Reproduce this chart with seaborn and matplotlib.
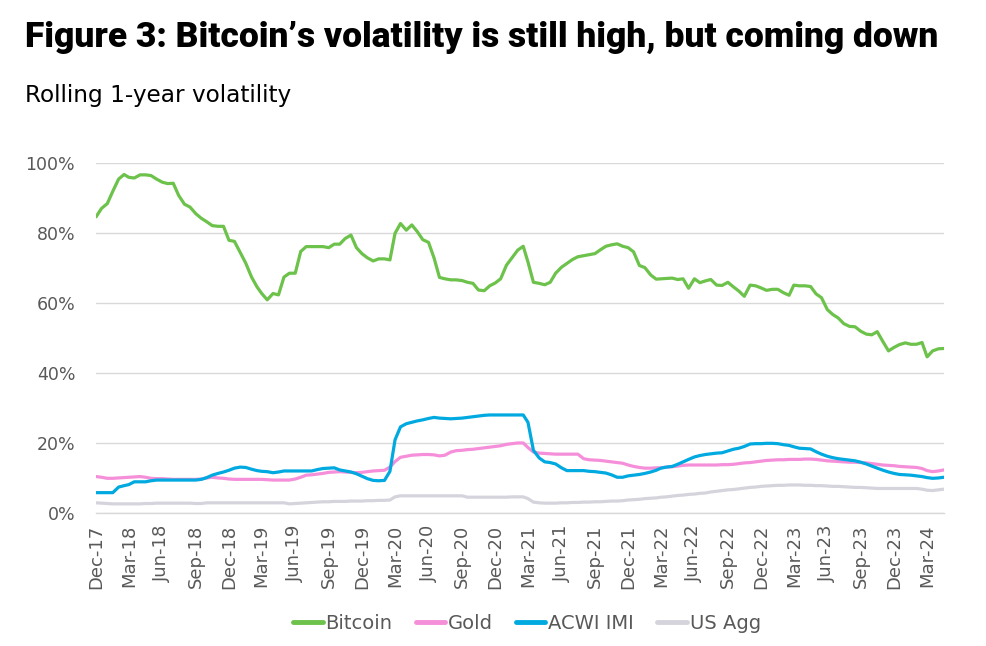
import numpy as np
import pandas as pd
import matplotlib
matplotlib.use("Agg")
import matplotlib.pyplot as plt
from matplotlib.ticker import FuncFormatter
import seaborn as sns

# ── data: rolling 1-year volatility (%), sampled on the 1st and 16th of each month ──
starts = pd.date_range("2017-12-01", "2024-04-01", freq="MS")
dates = sorted(list(starts) + list(starts + pd.Timedelta(days=15)))

bitcoin = [84.7, 87.1, 88.5, 92.0, 95.5, 96.8, 96.0, 95.8, 96.7, 96.7,
           96.5, 95.5, 94.6, 94.2, 94.3, 90.8, 88.3, 87.5, 85.6, 84.3,
           83.3, 82.2, 82.0, 82.0, 78.0, 77.7, 74.5, 71.5, 67.5, 64.7,
           62.8, 61.0, 62.8, 62.4, 67.5, 68.6, 68.6, 74.8, 76.2, 76.2,
           76.2, 76.2, 75.9, 76.9, 76.9, 78.5, 79.5, 75.9, 74.2, 73.0,
           72.1, 72.7, 72.7, 72.4, 80.0, 82.8, 80.9, 82.4, 80.5, 78.2,
           77.4, 73.0, 67.4, 67.0, 66.7, 66.7, 66.5, 66.0, 65.7, 63.8,
           63.6, 65.0, 65.8, 67.0, 70.9, 73.0, 75.2, 76.3, 71.8, 66.0,
           65.7, 65.3, 66.0, 68.6, 70.3, 71.4, 72.5, 73.3, 73.6, 73.9,
           74.2, 75.3, 76.3, 76.7, 77.0, 76.3, 75.9, 74.7, 70.8, 70.2,
           68.1, 66.9, 67.0, 67.1, 67.2, 66.8, 67.0, 64.3, 67.0, 65.9,
           66.4, 66.8, 65.2, 65.1, 66.0, 64.7, 63.5, 62.0, 65.2, 65.0,
           64.4, 63.7, 64.0, 64.0, 63.0, 62.3, 65.2, 65.0, 65.0, 64.8,
           62.7, 61.6, 58.2, 56.8, 55.8, 54.2, 53.4, 53.3, 52.0, 51.2,
           51.0, 51.9, 49.0, 46.4, 47.4, 48.2, 48.7, 48.3, 48.3, 48.8,
           44.7, 46.4, 47.0, 47.1]

gold = [10.5, 10.3, 10.0, 10.0, 10.1, 10.2, 10.3, 10.4, 10.5, 10.3,
        10.0, 9.9, 9.9, 9.8, 9.7, 9.7, 9.7, 9.7, 9.7, 9.8,
        10.1, 10.3, 10.1, 10.0, 9.8, 9.7, 9.7, 9.7, 9.7, 9.7,
        9.7, 9.6, 9.5, 9.5, 9.5, 9.5, 9.8, 10.3, 10.9, 11.0,
        11.2, 11.4, 11.7, 11.8, 11.9, 11.8, 11.7, 11.6, 11.7, 11.9,
        12.1, 12.2, 12.3, 13.2, 14.8, 16.0, 16.3, 16.6, 16.7, 16.8,
        16.8, 16.7, 16.4, 16.6, 17.5, 17.9, 18.0, 18.2, 18.3, 18.5,
        18.7, 18.9, 19.1, 19.3, 19.7, 19.9, 20.1, 20.1, 18.8, 17.5,
        17.2, 17.1, 17.0, 16.9, 16.9, 16.9, 16.9, 16.9, 15.6, 15.3,
        15.2, 15.1, 14.9, 14.7, 14.5, 14.3, 13.8, 13.4, 13.1, 12.9,
        12.9, 13.0, 13.0, 13.2, 13.3, 13.5, 13.7, 13.8, 13.8, 13.8,
        13.8, 13.8, 13.8, 13.9, 13.9, 14.0, 14.2, 14.4, 14.5, 14.7,
        14.9, 15.1, 15.2, 15.3, 15.3, 15.4, 15.4, 15.4, 15.5, 15.5,
        15.4, 15.2, 15.0, 14.9, 14.8, 14.7, 14.6, 14.6, 14.5, 14.4,
        14.2, 14.0, 13.8, 13.7, 13.6, 13.4, 13.3, 13.2, 13.1, 12.8,
        12.2, 11.9, 12.1, 12.4]

acwi_imi = [5.9, 5.9, 5.9, 5.9, 7.5, 7.9, 8.2, 9.0, 9.0, 9.0,
            9.3, 9.5, 9.5, 9.5, 9.5, 9.5, 9.5, 9.5, 9.5, 9.7,
            10.2, 10.9, 11.4, 11.8, 12.3, 12.9, 13.2, 13.1, 12.6, 12.2,
            12.0, 11.9, 11.6, 11.8, 12.1, 12.1, 12.1, 12.1, 12.1, 12.1,
            12.5, 12.8, 12.9, 13.0, 12.4, 12.1, 11.8, 11.3, 10.6, 9.9,
            9.4, 9.3, 9.4, 12.0, 21.0, 24.7, 25.6, 26.0, 26.4, 26.7,
            27.1, 27.4, 27.2, 27.1, 27.0, 27.1, 27.2, 27.4, 27.6, 27.8,
            28.0, 28.1, 28.1, 28.1, 28.1, 28.1, 28.1, 28.1, 26.0, 18.0,
            15.8, 14.7, 14.5, 14.1, 13.0, 12.2, 12.2, 12.2, 12.2, 12.0,
            11.9, 11.7, 11.5, 11.0, 10.3, 10.3, 10.7, 10.9, 11.1, 11.4,
            11.8, 12.3, 12.9, 13.2, 13.4, 14.0, 14.7, 15.4, 16.1, 16.5,
            16.8, 17.0, 17.2, 17.3, 17.8, 18.3, 18.6, 19.1, 19.8, 19.9,
            19.9, 20.0, 20.0, 19.9, 19.6, 19.4, 19.0, 18.6, 18.5, 18.4,
            17.6, 16.9, 16.3, 15.9, 15.6, 15.4, 15.2, 15.0, 14.6, 14.1,
            13.5, 12.9, 12.3, 11.8, 11.4, 11.1, 11.0, 10.9, 10.7, 10.5,
            10.2, 10.0, 10.1, 10.3]

us_agg = [3.0, 2.9, 2.8, 2.7, 2.7, 2.7, 2.7, 2.7, 2.7, 2.8,
          2.8, 2.9, 2.9, 2.9, 2.9, 2.9, 2.9, 2.9, 2.8, 2.8,
          3.0, 3.0, 3.0, 3.0, 3.0, 3.0, 3.0, 3.0, 3.0, 3.0,
          3.0, 3.0, 3.0, 3.0, 3.0, 2.7, 2.8, 2.9, 3.0, 3.1,
          3.2, 3.3, 3.3, 3.4, 3.4, 3.4, 3.5, 3.5, 3.5, 3.6,
          3.6, 3.7, 3.7, 3.8, 4.7, 5.0, 5.0, 5.0, 5.0, 5.0,
          5.0, 5.0, 5.0, 5.0, 5.0, 5.0, 5.0, 4.6, 4.6, 4.6,
          4.6, 4.6, 4.6, 4.6, 4.6, 4.7, 4.7, 4.7, 4.2, 3.2,
          3.0, 2.9, 2.9, 2.9, 3.0, 3.0, 3.1, 3.1, 3.2, 3.2,
          3.3, 3.3, 3.4, 3.5, 3.5, 3.6, 3.8, 3.9, 4.0, 4.2,
          4.3, 4.4, 4.6, 4.7, 4.9, 5.1, 5.2, 5.4, 5.5, 5.7,
          5.8, 6.1, 6.3, 6.5, 6.7, 6.8, 7.0, 7.2, 7.4, 7.5,
          7.7, 7.8, 7.9, 8.0, 8.0, 8.1, 8.1, 8.1, 8.0, 8.0,
          7.9, 7.9, 7.8, 7.7, 7.7, 7.6, 7.5, 7.4, 7.4, 7.3,
          7.2, 7.1, 7.1, 7.1, 7.1, 7.1, 7.1, 7.1, 7.1, 6.9,
          6.6, 6.5, 6.7, 6.9]

series_names = ["Bitcoin", "Gold", "ACWI IMI", "US Agg"]
palette = {"Bitcoin": "#6cc24a", "Gold": "#f58fd9",
           "ACWI IMI": "#00a9e0", "US Agg": "#d5d4dc"}

df = pd.DataFrame({"date": dates, "Bitcoin": bitcoin, "Gold": gold,
                   "ACWI IMI": acwi_imi, "US Agg": us_agg})
long_df = df.melt(id_vars="date", var_name="series", value_name="vol")

# ── plot ──────────────────────────────────────────────────────────────────────
sns.set_theme(style="white")
plt.rcParams["font.family"] = ["DejaVu Sans"]

fig = plt.figure(figsize=(9.87, 6.46), dpi=100)
ax = fig.add_axes([0.0973, 0.2054, 0.859, 0.5418])

sns.lineplot(data=long_df, x="date", y="vol", hue="series",
             hue_order=series_names, palette=palette, linewidth=2.3,
             ax=ax, legend=False)

ax.set_xlim(pd.Timestamp("2017-12-01"), pd.Timestamp("2024-04-16"))
ax.set_ylim(0, 100)
ax.set_yticks(np.arange(0, 101, 20))
ax.yaxis.set_major_formatter(FuncFormatter(lambda v, _: f"{v:.0f}%"))
ax.yaxis.grid(True, color="#d9d9d9", linewidth=1)
ax.set_axisbelow(True)

xticks = pd.date_range("2017-12-01", "2024-03-01", freq="3MS")
ax.set_xticks(xticks, [d.strftime("%b-%y") for d in xticks])
ax.tick_params(axis="x", length=5, width=1, color="#d9d9d9",
               labelsize=13, labelcolor="#595959", pad=3)
ax.tick_params(axis="y", length=0, labelsize=12.5, labelcolor="#595959", pad=15)
for lbl in ax.get_xticklabels():
    lbl.set_rotation("vertical")
    lbl.set_rotation_mode("default")

for side in ["left", "right", "top"]:
    ax.spines[side].set_visible(False)
ax.spines["bottom"].set_color("#d9d9d9")
ax.spines["bottom"].set_linewidth(1)
ax.set_xlabel("")
ax.set_ylabel("")

# legend below the axis
handles = [plt.Line2D([], [], color=palette[n], linewidth=3.5) for n in series_names]
leg = fig.legend(handles, series_names, loc="center", bbox_to_anchor=(0.534, 0.035),
                 ncol=4, frameon=False, fontsize=14, handlelength=1.5,
                 handletextpad=0.15, columnspacing=1.2)
for t in leg.get_texts():
    t.set_color("#595959")

fig.text(25 / 987, 1 - 47 / 646, "Figure 3: Bitcoin\u2019s volatility is still high, but coming down",
         fontsize=25.5, fontweight="black", family=["Roboto", "DejaVu Sans"],
         color="black", va="baseline", ha="left")
fig.text(25 / 987, 1 - 102 / 646, "Rolling 1-year volatility",
         fontsize=16.7, color="black", va="baseline", ha="left")

fig.savefig("out.png", dpi=100)
